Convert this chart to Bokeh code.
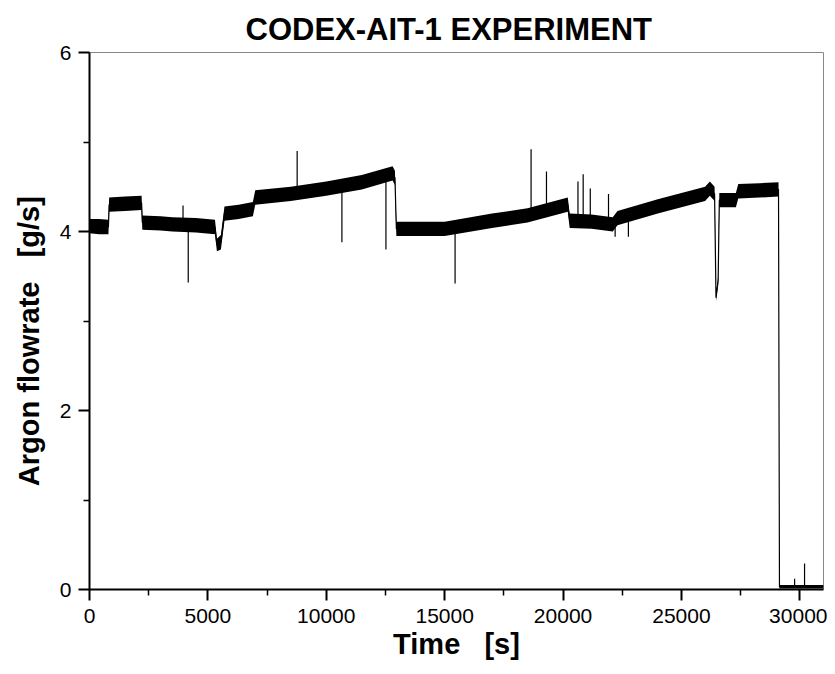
from bokeh.plotting import figure
from bokeh.models import Range1d, FixedTicker, ColumnDataSource
from bokeh.embed import file_html
from bokeh.resources import INLINE

# ---- data ----
time_s = [0, 400, 800, 830, 1500, 2200, 2230, 3000, 3500, 4500, 5300, 5380, 5550, 5700,
          6300, 6900, 7000, 8500, 10000, 11500, 12800, 12900, 12960, 14000, 15000,
          17000, 18500, 20200, 20280, 21200, 22100, 22300, 24000, 26000, 26200, 26400,
          26460, 26550, 26600, 27300, 27400, 28300, 29100, 29140, 31000]
flow_low = [3.98, 3.97, 3.97, 4.22, 4.23, 4.24, 4.02, 4.01, 4.00, 3.99, 3.97, 3.78,
            3.80, 4.12, 4.14, 4.17, 4.30, 4.34, 4.40, 4.47, 4.57, 4.52, 3.95, 3.95,
            3.95, 4.04, 4.10, 4.22, 4.04, 4.03, 4.00, 4.07, 4.20, 4.34, 4.40, 4.34,
            3.22, 3.40, 4.27, 4.27, 4.37, 4.38, 4.39, 0.01, 0.01]
flow_high = [4.14, 4.14, 4.13, 4.38, 4.39, 4.40, 4.18, 4.17, 4.16, 4.15, 4.13, 3.92,
             3.96, 4.28, 4.30, 4.33, 4.46, 4.50, 4.56, 4.63, 4.73, 4.68, 4.11, 4.11,
             4.11, 4.20, 4.26, 4.38, 4.20, 4.19, 4.16, 4.23, 4.36, 4.50, 4.56, 4.50,
             3.30, 3.50, 4.43, 4.43, 4.53, 4.54, 4.55, 0.05, 0.05]

spike_t = [3950, 4170, 8770, 10660, 12520, 15440, 18650, 19300, 20630, 20850,
           21150, 21920, 22200, 22760, 29780, 30200]
spike_base = [4.08, 4.07, 4.44, 4.52, 4.62, 4.03, 4.20, 4.22, 4.12, 4.12,
              4.12, 4.10, 4.08, 4.12, 0.03, 0.03]
spike_peak = [4.29, 3.43, 4.90, 3.88, 3.80, 3.42, 4.92, 4.67, 4.56, 4.64,
              4.48, 4.42, 3.94, 3.94, 0.12, 0.29]

x_ticks = [0, 5000, 10000, 15000, 20000, 25000, 30000]
x_minor = [2500, 7500, 12500, 17500, 22500, 27500]
y_ticks = [0, 2, 4, 6]
y_minor = [1, 3, 5]

flow_mid = [(a + b) / 2 for a, b in zip(flow_low, flow_high)]

FONT = "Liberation Sans"

p = figure(width=827, height=666, output_backend="svg", toolbar_location=None,
           x_range=Range1d(0, 31000), y_range=Range1d(0, 6),
           title="CODEX-AIT-1 EXPERIMENT",
           min_border_left=89, min_border_right=4, min_border_top=52,
           min_border_bottom=77)

p.title.align = "left"
p.title.offset = 156
p.title.text_font = FONT
p.title.text_font_size = "31px"
p.title.text_font_style = "bold"
p.title.text_color = "black"
p.title.standoff = 12

src = ColumnDataSource(dict(t=time_s, lo=flow_low, hi=flow_high, mid=flow_mid))
p.varea(x="t", y1="lo", y2="hi", source=src, fill_color="black")
p.line(x="t", y="mid", source=src, line_color="black", line_width=1.2)

ssrc = ColumnDataSource(dict(t=spike_t, b=spike_base, pk=spike_peak))
p.segment(x0="t", y0="b", x1="t", y1="pk", source=ssrc,
          line_color="black", line_width=1.2)

p.xgrid.visible = False
p.ygrid.visible = False
p.outline_line_color = "#888888"
p.outline_line_width = 1

p.xaxis.ticker = FixedTicker(ticks=x_ticks, minor_ticks=x_minor)
p.yaxis.ticker = FixedTicker(ticks=y_ticks, minor_ticks=y_minor)

for ax in (p.xaxis[0], p.yaxis[0]):
    ax.axis_line_width = 2
    ax.axis_line_color = "black"
    ax.major_tick_line_width = 2
    ax.minor_tick_line_width = 1.5
    ax.major_tick_out = 11
    ax.major_tick_in = 0
    ax.minor_tick_out = 6
    ax.minor_tick_in = 0
    ax.major_label_text_font = FONT
    ax.major_label_text_font_size = "21px"
    ax.major_label_text_color = "black"
    ax.axis_label_text_font = FONT
    ax.axis_label_text_font_style = "bold"
    ax.axis_label_text_font_size = "29px"
    ax.axis_label_text_color = "black"

p.xaxis.axis_label = "Time\u00a0\u00a0\u00a0[s]"
p.xaxis.axis_label_standoff = 2
p.xaxis.major_label_standoff = 8
p.yaxis.axis_label = "Argon flowrate\u00a0\u00a0\u00a0[g/s]" + "\u00a0" * 5
p.yaxis.axis_label_standoff = 12
p.yaxis.major_label_standoff = 7

open("out.html", "w").write(file_html(p, INLINE))
